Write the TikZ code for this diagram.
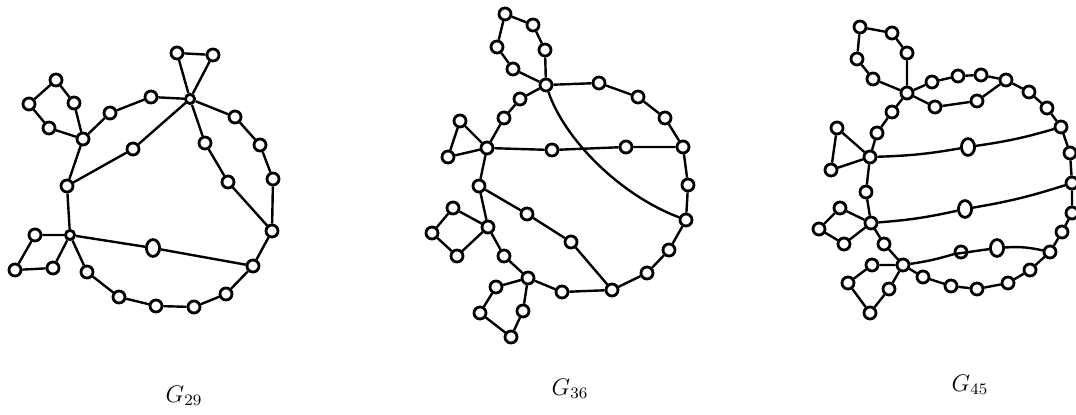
\documentclass[tikz,border=0pt]{standalone}
\usepackage{amsmath}
\usepackage{tikz}
\usetikzlibrary{calc,shapes.geometric}

\tikzset{
  v/.style={circle, draw, fill=white, line width=1.4pt, inner sep=0pt, minimum size=6pt},
  bigv/.style={ellipse, draw, fill=white, line width=1.4pt, inner sep=0pt, minimum width=6.6pt, minimum height=8.4pt},
  hub/.style={circle, draw, fill=white, line width=1.4pt, inner sep=0pt, minimum size=4.6pt},
  edge/.style={line width=1.2pt},
  glabel/.style={font=\large}
}

\begin{document}
\begin{tikzpicture}[x=0.5pt, y=-0.5pt]
    % Keep the page the size of the picture
    \useasboundingbox (0,0) rectangle (1076,415);

    %%%%%%%%%%%%%%%% G_29 %%%%%%%%%%%%%%%%
    % hubs
    \node[hub] (aA) at (190,99) {};
    \node[v] (aB) at (83,139) {};
    \node[v] (aC) at (67,186) {};
    \node[hub] (aD) at (70,235) {};
    \node[v] (aE) at (253,266) {};
    \node[v] (aF) at (272,231) {};

    % triangle on top
    \node[v] (at1) at (177,53) {};
    \node[v] (at2) at (213,55) {};
    \draw[edge] (aA) -- (at1) -- (at2) -- (aA);

    % pentagon at B
    \node[v] (ap1) at (74,103) {};
    \node[v] (ap2) at (56,80) {};
    \node[v] (ap3) at (29,104) {};
    \node[v] (ap4) at (49,128) {};
    \draw[edge] (aB) -- (ap1) -- (ap2) -- (ap3) -- (ap4) -- (aB);

    % square at D
    \node[v] (aq1) at (35,235) {};
    \node[v] (aq2) at (15,270) {};
    \node[v] (aq3) at (53,268) {};
    \draw[edge] (aD) -- (aq1) -- (aq2) -- (aq3) -- (aD);

    % outer cycle
    \node[v] (ab1) at (110,113) {};
    \node[v] (ab2) at (151,97) {};
    \node[v] (ao1) at (235,117) {};
    \node[v] (ao2) at (260,145) {};
    \node[v] (ao3) at (273,179) {};
    \node[v] (aw5) at (226,294) {};
    \node[v] (aw4) at (194,307) {};
    \node[v] (aw3) at (156,306) {};
    \node[v] (aw2) at (119,297) {};
    \node[v] (aw1) at (87,272) {};
    \draw[edge] (aB) -- (ab1) -- (ab2) -- (aA) -- (ao1) -- (ao2) -- (ao3) -- (aF)
        -- (aE) -- (aw5) -- (aw4) -- (aw3) -- (aw2) -- (aw1) -- (aD) -- (aC) -- (aB);

    % chords
    \node[v] (ac1) at (133,149) {};
    \draw[edge] (aC) -- (ac1) -- (aA);
    \node[v] (ae1) at (205,143) {};
    \node[v] (ae2) at (228,182) {};
    \draw[edge] (aA) -- (ae1) -- (ae2) -- (aF);
    \node[bigv] (ad1) at (153,248) {};
    \draw[edge] (aD) -- (ad1) -- (aE);

    \node[glabel] (l29) at (184,396) {$G_{29}$};

    %%%%%%%%%%%%%%%% G_36 %%%%%%%%%%%%%%%%
    \node[v] (bH) at (546,85) {};
    \node[v] (bJ) at (487,148) {};
    \node[v] (bK) at (683,147) {};
    \node[v] (bL) at (686,220) {};
    \node[v] (bM) at (479,186) {};
    \node[v] (bN) at (612,290) {};
    \node[v] (bP) at (488,227) {};
    \node[v] (bQ) at (528,278) {};

    % hexagon on top
    \node[v] (bh1) at (545,50) {};
    \node[v] (bh2) at (533,25) {};
    \node[v] (bh3) at (505,14) {};
    \node[v] (bh4) at (497,47) {};
    \node[v] (bh5) at (513,69) {};
    \draw[edge] (bH) -- (bh1) -- (bh2) -- (bh3) -- (bh4) -- (bh5) -- (bH);

    % triangle at J
    \node[v] (bt1) at (460,121) {};
    \node[v] (bt2) at (448,157) {};
    \draw[edge] (bJ) -- (bt1) -- (bt2) -- (bJ);

    % square at P
    \node[v] (bs1) at (453,208) {};
    \node[v] (bs2) at (432,233) {};
    \node[v] (bs3) at (457,256) {};
    \draw[edge] (bP) -- (bs1) -- (bs2) -- (bs3) -- (bP);

    % pentagon at Q
    \node[v] (bf1) at (496,287) {};
    \node[v] (bf2) at (480,313) {};
    \node[v] (bf3) at (511,337) {};
    \node[v] (bf4) at (523,311) {};
    \draw[edge] (bQ) -- (bf1) -- (bf2) -- (bf3) -- (bf4) -- (bQ);

    % outer cycle
    \node[v] (br1) at (599,83) {};
    \node[v] (br2) at (638,97) {};
    \node[v] (br3) at (665,118) {};
    \node[v] (bk1) at (688,185) {};
    \node[v] (bn1) at (669,250) {};
    \node[v] (bn2) at (647,273) {};
    \node[v] (bq1) at (562,292) {};
    \node[v] (bp1) at (504,256) {};
    \node[v] (bl2) at (504,118) {};
    \node[v] (bl1) at (520,99) {};
    \draw[edge] (bH) -- (br1) -- (br2) -- (br3) -- (bK) -- (bk1) -- (bL) -- (bn1) -- (bn2)
        -- (bN) -- (bq1) -- (bQ) -- (bp1) -- (bP) -- (bM) -- (bJ) -- (bl2) -- (bl1) -- (bH);

    % chords
    \node[v] (bc1) at (552,150) {};
    \node[v] (bc2) at (626,147) {};
    \draw[edge] (bJ) -- (bc1) -- (bc2) -- (bK);
    \node[v] (bm1) at (527,214) {};
    \node[v] (bm2) at (571,242) {};
    \draw[edge] (bM) -- (bm1) -- (bm2) -- (bN);
    \draw[edge] (bH) .. controls (565,140) and (620,195) .. (bL);

    \node[glabel] (l36) at (570,389) {$G_{36}$};

    %%%%%%%%%%%%%%%% G_45 %%%%%%%%%%%%%%%%
    \node[v] (cR) at (907,93) {};
    \node[v] (cS) at (1006,80) {};
    \node[v] (cT) at (1061,127) {};
    \node[v] (cU) at (1072,183) {};
    \node[v] (cV) at (1050,252) {};
    \node[v] (cW) at (870,157) {};
    \node[v] (cX) at (871,223) {};
    \node[v] (cY) at (903,265) {};

    % hexagon on top
    \node[v] (ch1) at (907,53) {};
    \node[v] (ch2) at (892,33) {};
    \node[v] (ch3) at (860,27) {};
    \node[v] (ch4) at (857,59) {};
    \node[v] (ch5) at (873,79) {};
    \draw[edge] (cR) -- (ch1) -- (ch2) -- (ch3) -- (ch4) -- (ch5) -- (cR);

    % triangle at W
    \node[v] (ct1) at (837,128) {};
    \node[v] (ct2) at (831,170) {};
    \draw[edge] (cW) -- (ct1) -- (ct2) -- (cW);

    % square at X
    \node[v] (cq1) at (840,208) {};
    \node[v] (cq2) at (819,229) {};
    \node[v] (cq3) at (844,244) {};
    \draw[edge] (cX) -- (cq1) -- (cq2) -- (cq3) -- (cX);

    % pentagon at Y
    \node[v] (cf1) at (872,265) {};
    \node[v] (cf2) at (848,283) {};
    \node[v] (cf3) at (870,313) {};
    \node[v] (cf4) at (889,289) {};
    \draw[edge] (cY) -- (cf1) -- (cf2) -- (cf3) -- (cf4) -- (cY);

    % outer cycle
    \node[v] (cu1) at (932,82) {};
    \node[v] (cu2) at (958,76) {};
    \node[v] (cu3) at (981,75) {};
    \node[v] (cs1) at (1029,92) {};
    \node[v] (cs2) at (1047,108) {};
    \node[v] (cr1) at (1070,153) {};
    \node[v] (cr2) at (1072,213) {};
    \node[v] (cr3) at (1062,232) {};
    \node[v] (cb5) at (1030,270) {};
    \node[v] (cb4) at (1008,283) {};
    \node[v] (cb3) at (977,289) {};
    \node[v] (cb2) at (951,286) {};
    \node[v] (cb1) at (923,277) {};
    \node[v] (cy0) at (884,244) {};
    \node[v] (cx0) at (866,192) {};
    \node[v] (cl2) at (877,133) {};
    \node[v] (cl1) at (892,112) {};
    \draw[edge] (cR) -- (cu1) -- (cu2) -- (cu3) -- (cS) -- (cs1) -- (cs2) -- (cT) -- (cr1)
        -- (cU) -- (cr2) -- (cr3) -- (cV) -- (cb5) -- (cb4) -- (cb3) -- (cb2) -- (cb1)
        -- (cY) -- (cy0) -- (cX) -- (cx0) -- (cW) -- (cl2) -- (cl1) -- (cR);

    % chords
    \node[v] (cd1) at (935,107) {};
    \node[v] (cd2) at (977,101) {};
    \draw[edge] (cR) -- (cd1) -- (cd2) -- (cS);
    \node[bigv] (cw1) at (968,147) {};
    \draw[edge] (cW) to[bend right=4] (cw1);
    \draw[edge] (cw1) to[bend right=4] (cT);
    \node[bigv] (cx1) at (965,209) {};
    \draw[edge] (cX) to[bend right=4] (cx1);
    \draw[edge] (cx1) to[bend right=4] (cU);
    \node[v] (cy1) at (961,252) {};
    \node[bigv] (cy2) at (997,248) {};
    \draw[edge] (cY) to[bend right=4] (cy1) -- (cy2) to[bend left=8] (cV);

    \node[glabel] (l45) at (970,385) {$G_{45}$};
\end{tikzpicture}
\end{document}
